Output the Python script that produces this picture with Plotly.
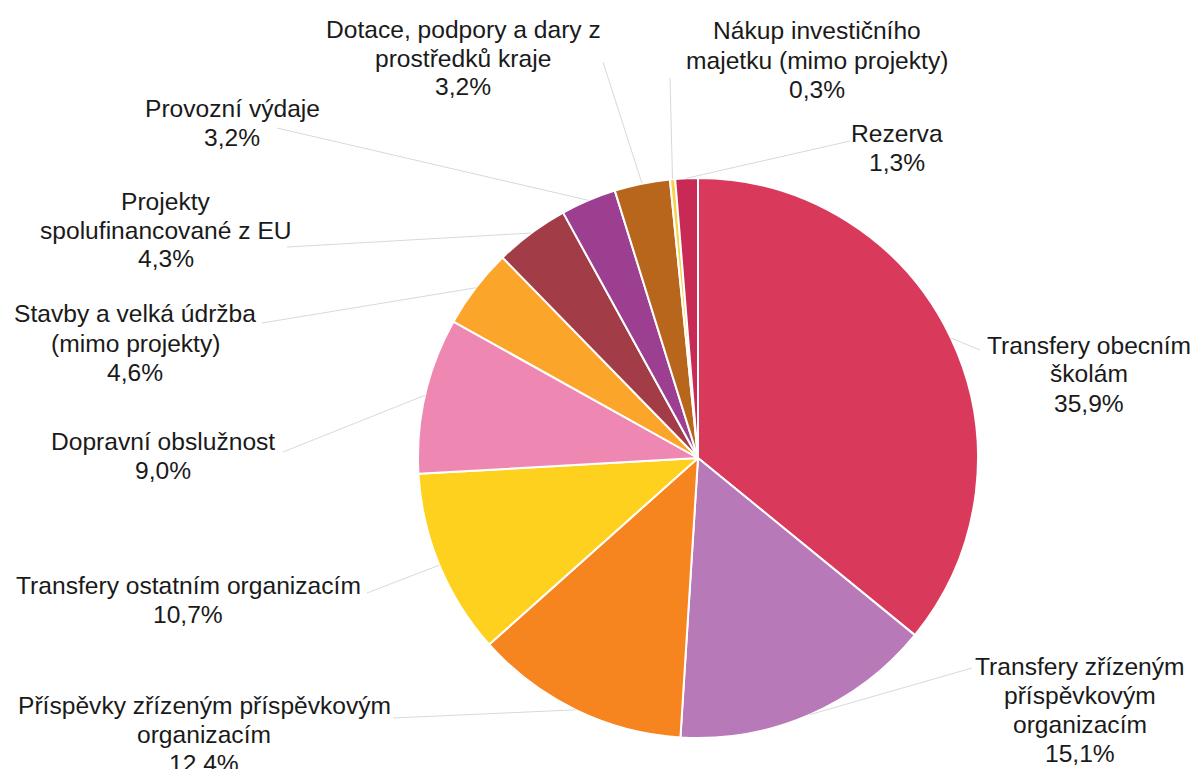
import math
import plotly.graph_objects as go

# ---- data ----
categories = [
    "Transfery obecním školám",
    "Transfery zřízeným příspěvkovým organizacím",
    "Příspěvky zřízeným příspěvkovým organizacím",
    "Transfery ostatním organizacím",
    "Dopravní obslužnost",
    "Stavby a velká údržba (mimo projekty)",
    "Projekty spolufinancované z EU",
    "Provozní výdaje",
    "Dotace, podpory a dary z prostředků kraje",
    "Nákup investičního majetku (mimo projekty)",
    "Rezerva",
]
values = [35.9, 15.1, 12.4, 10.7, 9.0, 4.6, 4.3, 3.2, 3.2, 0.3, 1.3]
value_labels = ["35,9%", "15,1%", "12.4%", "10,7%", "9,0%", "4,6%", "4,3%",
                "3,2%", "3,2%", "0,3%", "1,3%"]
label_lines = [
    ["Transfery obecním", "školám"],
    ["Transfery zřízeným", "příspěvkovým", "organizacím"],
    ["Příspěvky zřízeným příspěvkovým", "organizacím"],
    ["Transfery ostatním organizacím"],
    ["Dopravní obslužnost"],
    ["Stavby a velká údržba", "(mimo projekty)"],
    ["Projekty", "spolufinancované z EU"],
    ["Provozní výdaje"],
    ["Dotace, podpory a dary z", "prostředků kraje"],
    ["Nákup investičního", "majetku (mimo projekty)"],
    ["Rezerva"],
]
colors = ["#D93A5C", "#B879B8", "#F6841F", "#FFD11F", "#EE88B3", "#FBA62B",
          "#A23C46", "#9C3F90", "#B8661B", "#F5D44C", "#C92A55"]

# ---- layout (pixels) ----
W, H = 1195, 769
CX, CY, R = 698, 458, 280
# label block centres (x, y) and leader end points
label_pos = [(1089, 374), (1080, 710), (204, 734), (188, 600), (163, 456),
             (135, 343), (166, 230), (232, 123), (463, 58), (817, 60), (897, 148)]
leader_end = [(980, 350), (972, 668), (393, 718), (367, 593), (283, 452),
              (262, 323), (287, 247), (277, 128), (603, 62), (670, 78), (850, 141)]
LINE_H = 29
FONT = dict(family="Liberation Sans, Arial, sans-serif", size=24.6, color="#1a1a1a")


def px(x):
    return x / W


def py(y):
    return 1 - y / H


fig = go.Figure(go.Pie(
    labels=categories,
    values=values,
    sort=False,
    direction="clockwise",
    rotation=0,
    textinfo="none",
    hoverinfo="label+percent",
    marker=dict(colors=colors, line=dict(color="white", width=2)),
    domain=dict(x=[px(CX - R), px(CX + R)], y=[py(CY + R), py(CY - R)]),
    showlegend=False,
))

annotations = []
shapes = []
total = sum(values)
cum = 0.0
for i, v in enumerate(values):
    mid = (cum + v / 2) / total * 2 * math.pi
    cum += v
    sx = CX + R * math.sin(mid)
    sy = CY - R * math.cos(mid)
    ex, ey = leader_end[i]
    shapes.append(dict(type="line", xref="paper", yref="paper",
                       x0=px(sx), y0=py(sy), x1=px(ex), y1=py(ey),
                       line=dict(color="#d9d9d9", width=1)))
    lines = label_lines[i] + [value_labels[i]]
    n = len(lines)
    lx, ly = label_pos[i]
    for j, t in enumerate(lines):
        yy = ly + (j - (n - 1) / 2) * LINE_H
        annotations.append(dict(text=t, x=px(lx), y=py(yy), xref="paper", yref="paper",
                                xanchor="center", yanchor="middle", showarrow=False,
                                font=FONT))

fig.update_layout(
    width=W, height=H,
    margin=dict(l=0, r=0, t=0, b=0),
    paper_bgcolor="white",
    plot_bgcolor="white",
    annotations=annotations,
    shapes=shapes,
)

fig.write_html(
    "out.html",
    config={"displayModeBar": False},
    post_script="document.body.style.margin='0';document.body.style.overflow='hidden';",
)
